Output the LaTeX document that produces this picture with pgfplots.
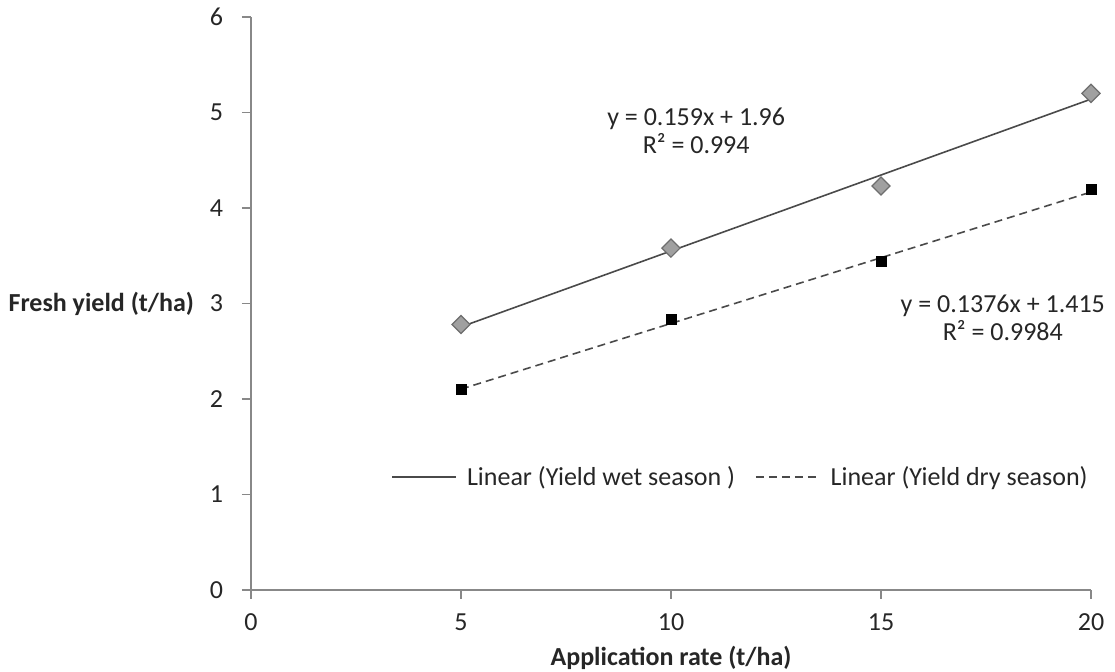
\documentclass[border=0pt]{standalone}
\usepackage{fontspec}
\setmainfont{Carlito}
\usepackage{pgfplots}
\pgfplotsset{compat=1.18}

\definecolor{axgray}{HTML}{888888}
\definecolor{txt}{HTML}{262626}
\definecolor{wetfill}{HTML}{A0A0A0}
\definecolor{wetedge}{HTML}{6E6E6E}
\definecolor{trend}{HTML}{4A4A4A}

\begin{document}
\begin{tikzpicture}[x=1pt,y=1pt]
% 1 px of the reference = 0.5pt
\path[use as bounding box] (-125.5,-41) rectangle (432,295);
\begin{axis}[
    scale only axis,
    width=420pt, height=286.5pt,
    xmin=0, xmax=20, ymin=0, ymax=6,
    xtick={0,5,10,15,20}, ytick={0,1,...,6},
    axis x line*=bottom, axis y line*=left,
    axis line style={axgray, line width=0.8pt, -},
    tick style={axgray, line width=0.8pt},
    tick align=outside, major tick length=4.5pt,
    ticklabel style={font=\fontsize{13}{15}\selectfont, text=txt},
    yticklabel style={xshift=-6pt},
    xticklabel style={yshift=-4pt},
    /pgf/number format/assume math mode=true,
    xlabel={Application rate (t/ha)},
    xlabel style={font=\fontsize{13}{15}\selectfont\bfseries, text=txt,
        at={(rel axis cs:0.5,0)}, anchor=base, yshift=-38pt},
    ylabel={Fresh yield (t/ha)},
    ylabel style={font=\fontsize{13}{15}\selectfont\bfseries, text=txt,
        rotate=-90, at={(rel axis cs:0,0.5)}, anchor=east, xshift=-25pt},
    legend style={draw=none, fill=none, at={(rel axis cs:0.584,0.197)},
        anchor=center, font=\fontsize{13}{15}\selectfont, text=txt,
        legend columns=2,
        /tikz/every odd column/.append style={column sep=3pt},
        /tikz/every even column/.append style={column sep=8pt}},
    legend image code/.code={\draw[#1] (0pt,0pt) -- (32pt,0pt);},
    clip=false,
]
% measured points
\addplot[only marks, mark=square*, mark size=3.2pt,
    mark options={rotate=45, fill=wetfill, draw=wetedge, line width=0.6pt}, forget plot]
    coordinates {(5,2.78) (10,3.58) (15,4.23) (20,5.20)};
\addplot[only marks, mark=square*, mark size=2.5pt,
    mark options={fill=black, draw=black}, forget plot]
    coordinates {(5,2.10) (10,2.83) (15,3.44) (20,4.19)};
% trend lines
\addplot[trend, line width=0.8pt] coordinates {(5,2.755) (20,5.14)};
\addlegendentry{Linear (Yield wet season )}
\addplot[trend, line width=0.8pt, dash pattern=on 4pt off 2.5pt] coordinates {(5,2.103) (20,4.167)};
\addlegendentry{Linear (Yield dry season)}
% equations
\node[align=center, text=txt, font=\fontsize{13}{14}\selectfont]
    at (axis cs:10.6,4.81) {y = 0.159x + 1.96\\R² = 0.994};
\node[align=center, text=txt, font=\fontsize{13}{14}\selectfont]
    at (axis cs:17.9,2.85) {y = 0.1376x + 1.415\\R² = 0.9984};
\end{axis}
\end{tikzpicture}
\end{document}
